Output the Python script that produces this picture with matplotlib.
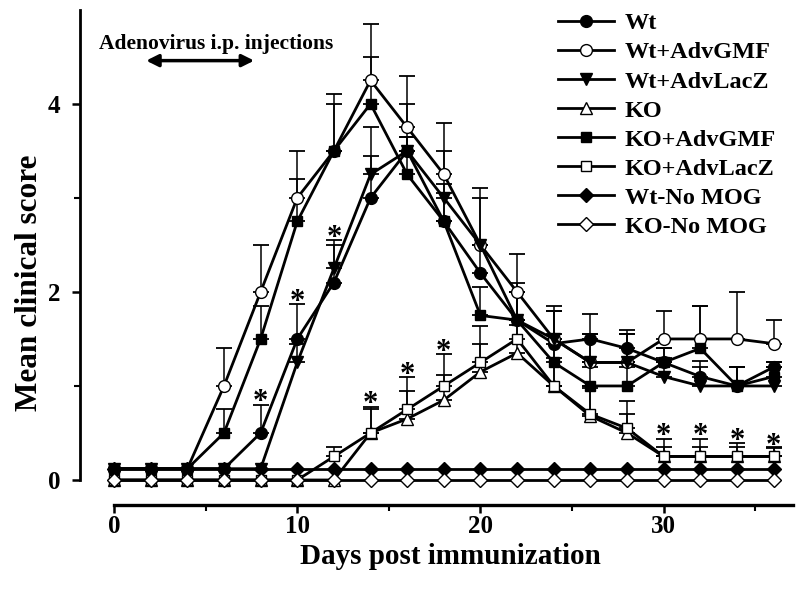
import numpy as np
import matplotlib.pyplot as plt

plt.rcParams['font.family'] = ['Liberation Serif', 'DejaVu Serif']
plt.rcParams['font.weight'] = 'bold'

# days post immunization
days = np.arange(0, 37, 2)

# mean clinical scores
wt = [0.12, 0.12, 0.12, 0.12, 0.5, 1.5, 2.1, 3.0, 3.5, 2.75, 2.2, 1.7, 1.45, 1.5, 1.4, 1.25, 1.1, 1.0, 1.2]
wt_gmf = [0.12, 0.12, 0.12, 1.0, 2.0, 3.0, 3.5, 4.25, 3.75, 3.25, 2.5, 2.0, 1.5, 1.25, 1.25, 1.5, 1.5, 1.5, 1.45]
wt_lacz = [0.12, 0.12, 0.12, 0.12, 0.12, 1.25, 2.25, 3.25, 3.5, 3.0, 2.5, 1.7, 1.5, 1.25, 1.25, 1.1, 1.0, 1.0, 1.0]
ko = [0, 0, 0, 0, 0, 0, 0, 0.5, 0.65, 0.85, 1.15, 1.35, 1.0, 0.68, 0.5, 0.25, 0.25, 0.25, 0.25]
ko_gmf = [0.12, 0.12, 0.12, 0.5, 1.5, 2.75, 3.5, 4.0, 3.25, 2.75, 1.75, 1.7, 1.25, 1.0, 1.0, 1.25, 1.4, 1.0, 1.1]
ko_lacz = [0, 0, 0, 0, 0, 0, 0.25, 0.5, 0.75, 1.0, 1.25, 1.5, 1.0, 0.7, 0.55, 0.25, 0.25, 0.25, 0.25]
wt_nomog = [0.12] * 19
ko_nomog = [0] * 19

# upper error bars (SEM)
wt_err = [0, 0, 0, 0, 0.3, 0.37, 0.45, 0.45, 0.15, 0.3, 0.3, 0.4, 0.35, 0.27, 0.2, 0.15, 0.17, 0.2, 0.05]
wt_gmf_err = [0, 0, 0, 0.4, 0.5, 0.5, 0.6, 0.6, 0.55, 0.55, 0.6, 0.4, 0.35, 0.3, 0.3, 0.3, 0.35, 0.5, 0.25]
wt_lacz_err = [0, 0, 0, 0, 0, 0.2, 0.25, 0.5, 0.5, 0.5, 0.5, 0.3, 0.3, 0.3, 0.3, 0.2, 0.2, 0.2, 0.2]
ko_err = [0, 0, 0, 0, 0, 0, 0, 0.25, 0.3, 0.27, 0.3, 0.3, 0.3, 0.3, 0.2, 0.1, 0.1, 0.1, 0.1]
ko_gmf_err = [0, 0, 0, 0.25, 0.35, 0.45, 0.5, 0.5, 0.4, 0.4, 0.3, 0.3, 0.3, 0.2, 0.2, 0.15, 0.45, 0.2, 0.15]
ko_lacz_err = [0, 0, 0, 0, 0, 0, 0.1, 0.28, 0.34, 0.34, 0.39, 0.5, 0.5, 0.3, 0.29, 0.19, 0.19, 0.14, 0.09]

labels = ['Wt', 'Wt+AdvGMF', 'Wt+AdvLacZ', 'KO', 'KO+AdvGMF', 'KO+AdvLacZ', 'Wt-No MOG', 'KO-No MOG']
means = [wt, wt_gmf, wt_lacz, ko, ko_gmf, ko_lacz, wt_nomog, ko_nomog]
errs = [wt_err, wt_gmf_err, wt_lacz_err, ko_err, ko_gmf_err, ko_lacz_err, None, None]
markers = ['o', 'o', 'v', '^', 's', 's', 'D', 'D']
fills = ['black', 'white', 'black', 'white', 'black', 'white', 'black', 'white']
sizes = [8.5, 8.5, 8, 8, 7.5, 7.5, 7, 7]

# significance stars: (day, series index)
star_days = [8, 10, 12, 14, 16, 18, 30, 32, 34, 36]
star_series = [0, 0, 0, 5, 5, 5, 5, 5, 5, 5]

fig = plt.figure(figsize=(8, 5.93), dpi=100)
ax = fig.add_axes([0.1, 0.1484, 0.891, 0.835])

for i in range(len(labels)):
    y = np.array(means[i], dtype=float)
    if errs[i] is not None:
        e = np.array(errs[i])
        m = e > 0
        ax.errorbar(days[m], y[m], yerr=[np.zeros(m.sum()), e[m]], fmt='none',
                    ecolor='black', elinewidth=1.1, capsize=6, capthick=1.3, zorder=2)
    ax.plot(days, y, color='black', lw=2.0, marker=markers[i], ms=sizes[i],
            mfc=fills[i], mec='black', mew=1.0, label=labels[i], zorder=3 + i * 0.1)

for d, s in zip(star_days, star_series):
    k = list(days).index(d)
    top = means[s][k] + errs[s][k]
    ax.text(d, top - 0.06, '*', ha='center', va='baseline', fontsize=22)

# adenovirus injection window
ax.annotate('', xy=(1.6, 4.46), xytext=(7.8, 4.46),
            arrowprops=dict(arrowstyle='<|-|>', color='black', lw=2.5, mutation_scale=18))
ax.text(-0.8, 4.64, 'Adenovirus i.p. injections', fontsize=15.5, va='center', ha='left')

ax.set_xlim(-1.86, 37.05)
ax.set_ylim(-0.266, 5.0)
ax.spines['top'].set_visible(False)
ax.spines['right'].set_visible(False)
ax.spines['left'].set_bounds(0, 5)
ax.spines['bottom'].set_bounds(0, 37.05)
ax.spines['left'].set_linewidth(2)
ax.spines['bottom'].set_linewidth(2.4)

ax.set_xticks([0, 10, 20, 30])
ax.set_xticks([5, 15, 25, 35], minor=True)
ax.set_yticks([0, 2, 4])
ax.set_yticks([1, 3], minor=True)
ax.tick_params(axis='both', which='major', length=6, width=1.8, labelsize=18, direction='out')
ax.tick_params(axis='both', which='minor', length=4, width=1.5, direction='out')
ax.tick_params(axis='y', which='major', pad=8)
ax.tick_params(axis='x', which='major', pad=1)

ax.set_xlabel('Days post immunization', fontsize=21, fontweight='bold')
ax.set_ylabel('Mean clinical score', fontsize=22.5, fontweight='bold')
ax.xaxis.set_label_coords(0.52, -0.076)
ax.yaxis.set_label_coords(-0.050, 0.449)

ax.legend(loc='upper left', bbox_to_anchor=(0.67, 1.016), bbox_transform=fig.transFigure,
          frameon=False, fontsize=17.5, handlelength=2.3, labelspacing=0.29, handletextpad=0.45)

fig.savefig('out.png', dpi=100)
